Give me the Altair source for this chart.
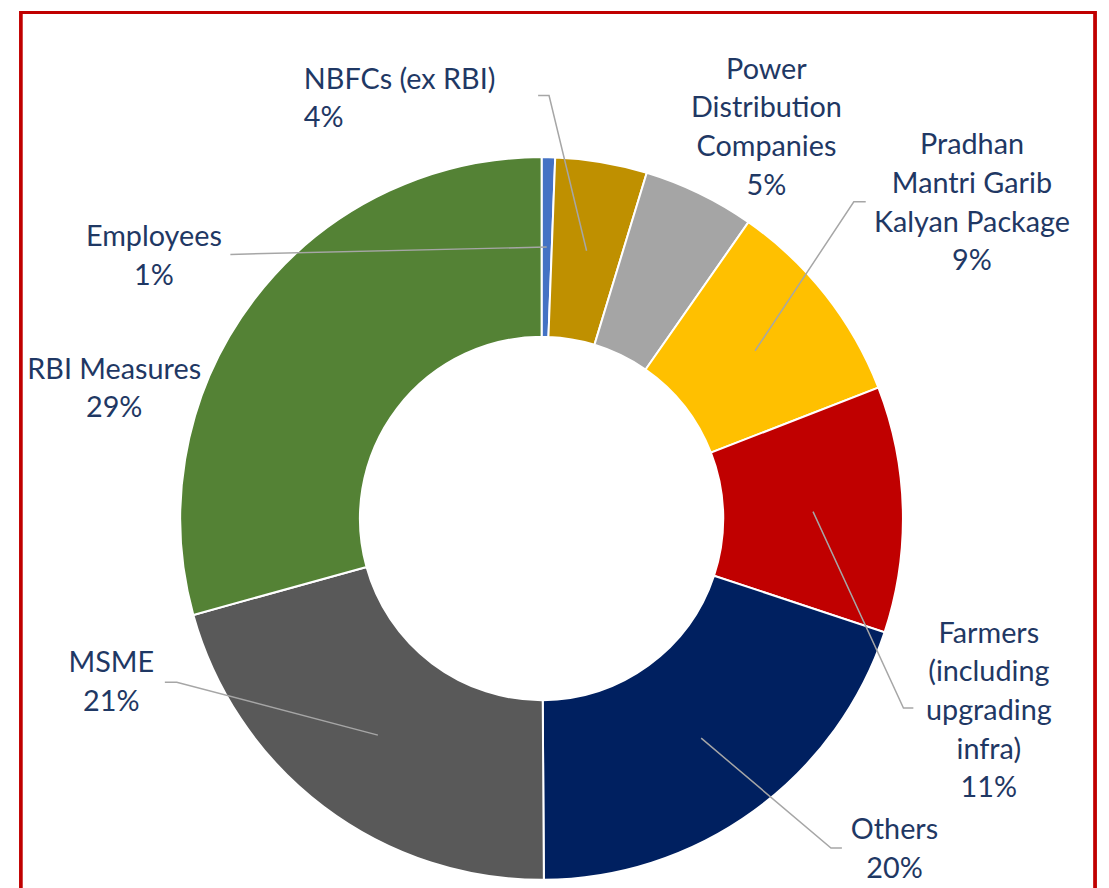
import math
import altair as alt
import pandas as pd

# ---------------- data ----------------
categories = [
    "Employees",
    "NBFCs (ex RBI)",
    "Power Distribution Companies",
    "Pradhan Mantri Garib Kalyan Package",
    "Farmers (including upgrading infra)",
    "Others",
    "MSME",
    "RBI Measures",
]
shares = [0.6, 4.1, 5.0, 9.4, 11.0, 19.8, 20.8, 29.3]
label_text = [
    "Employees",
    "NBFCs (ex RBI)",
    "Power\nDistribution\nCompanies",
    "Pradhan\nMantri Garib\nKalyan Package",
    "Farmers\n(including\nupgrading\ninfra)",
    "Others",
    "MSME",
    "RBI Measures",
]
colors = ["#4472C4", "#BF9000", "#A5A5A5", "#FFC000", "#C00000", "#002060", "#595959", "#548235"]

# ---------------- layout (styling) ----------------
W, H = 1101, 880
CX, CY = 537.5, 511
R_IN, R_OUT = 183, 364
R_MID = (R_IN + R_OUT) / 2
TEXT_COLOR = "#1F3864"
FONT = "Lato"
FS = 29
LH = 39

# label anchor (x, first-line y, align) and leader elbow/end points, per category
label_layout = {
    "Employees": dict(x=147, y=228, align="center", leader=[(224, 245)]),
    "NBFCs (ex RBI)": dict(x=298, y=69, align="left", leader=[(545, 85), (534, 85)]),
    "Power Distribution Companies": dict(x=764, y=59, align="center", leader=None),
    "Pradhan Mantri Garib Kalyan Package": dict(x=971, y=135, align="center", leader=[(852, 192), (864, 192)]),
    "Farmers (including upgrading infra)": dict(x=988, y=627, align="center", leader=[(902, 702), (912, 702)]),
    "Others": dict(x=893, y=825, align="center", leader=[(829, 843), (840, 843)]),
    "MSME": dict(x=104, y=657, align="center", leader=[(170, 676), (158, 676)]),
    "RBI Measures": dict(x=107, y=361, align="center", leader=None),
}

# ---------------- tables ----------------
total = sum(shares)
arc_df = pd.DataFrame({"cat": categories, "share": shares, "idx": list(range(len(categories)))})

text_rows, line_rows = [], []
cum = 0.0
for cat, s, lab in zip(categories, shares, label_text):
    mid = (cum + s / 2) / total * 2 * math.pi
    cum += s
    lay = label_layout[cat]
    text_rows.append(dict(cat=cat, tx=lay["x"], ty=lay["y"], align=lay["align"],
                          text=f"{lab}\n{round(s)}%"))
    if lay["leader"]:
        pts = [(CX + R_MID * math.sin(mid), CY - R_MID * math.cos(mid))] + lay["leader"]
        for k, (px, py) in enumerate(pts):
            line_rows.append(dict(cat=cat, seq=k, px=px, py=py))

text_df = pd.DataFrame(text_rows)
line_df = pd.DataFrame(line_rows)

# ---------------- chart ----------------
arcs = alt.Chart(arc_df).mark_arc(
    innerRadius=R_IN, outerRadius=R_OUT, stroke="white", strokeWidth=2
).encode(
    theta=alt.Theta("share:Q", stack=True),
    color=alt.Color("cat:N", scale=alt.Scale(domain=categories, range=colors), legend=None),
    order=alt.Order("idx:Q"),
    x=alt.value(CX),
    y=alt.value(CY),
)

leaders = alt.Chart(line_df).mark_line(color="#A6A6A6", strokeWidth=1.5).encode(
    x=alt.X("px:Q", scale=None, axis=None),
    y=alt.Y("py:Q", scale=None, axis=None),
    detail="cat:N",
    order="seq:Q",
)

def text_layer(align):
    return alt.Chart(text_df).transform_filter(
        alt.datum.align == align
    ).mark_text(
        align=align, baseline="middle", font=FONT, fontSize=FS,
        lineHeight=LH, lineBreak="\n", color=TEXT_COLOR,
    ).encode(
        x=alt.X("tx:Q", scale=None, axis=None),
        y=alt.Y("ty:Q", scale=None, axis=None),
        text="text:N",
    )

border = alt.Chart(arc_df).mark_rect(
    fill=None, filled=False, stroke="#C00000", strokeWidth=2.5
).encode(
    x=alt.value(13), x2=alt.value(1095), y=alt.value(1), y2=alt.value(H + 20)
)

chart = alt.layer(arcs, leaders, text_layer("center"), text_layer("left"), border).properties(
    width=W, height=H, autosize=alt.AutoSizeParams(type="none"), padding=0,
).configure_view(stroke=None)

chart.save("out.html", embed_options={"renderer": "svg", "actions": False})
